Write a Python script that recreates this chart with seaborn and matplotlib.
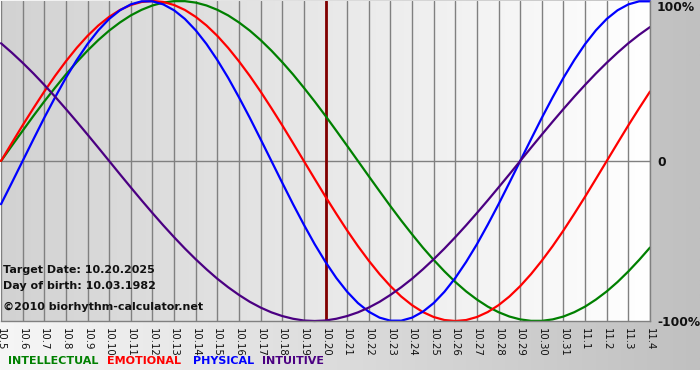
import numpy as np
import pandas as pd
import matplotlib
matplotlib.use("Agg")
import matplotlib.pyplot as plt
from matplotlib.colors import LinearSegmentedColormap
import seaborn as sns

dates = ["10.5", "10.6", "10.7", "10.8", "10.9", "10.10", "10.11", "10.12", "10.13",
         "10.14", "10.15", "10.16", "10.17", "10.18", "10.19", "10.20", "10.21",
         "10.22", "10.23", "10.24", "10.25", "10.26", "10.27", "10.28", "10.29",
         "10.30", "10.31", "11.1", "11.2", "11.3", "11.4"]

physical = [-0.270, -0.136, 0.000, 0.136, 0.270, 0.398, 0.520, 0.631, 0.731, 0.817,
            0.888, 0.942, 0.979, 0.998, 0.998, 0.979, 0.942, 0.888, 0.817, 0.731,
            0.631, 0.520, 0.398, 0.270, 0.136, 0.000,
            -0.136, -0.270, -0.398, -0.520, -0.631, -0.731, -0.817, -0.888, -0.942,
            -0.979, -0.998, -0.998, -0.979, -0.942, -0.888, -0.817, -0.731, -0.631,
            -0.520, -0.398, -0.270, -0.136, 0.000,
            0.136, 0.270, 0.398, 0.520, 0.631, 0.731, 0.817, 0.888, 0.942, 0.979,
            0.998, 0.998]

emotional = [0.000, 0.112, 0.223, 0.330, 0.434, 0.532, 0.623, 0.707, 0.782, 0.847,
             0.901, 0.944, 0.975, 0.994, 1.000,
             0.994, 0.975, 0.944, 0.901, 0.847, 0.782, 0.707, 0.623, 0.532, 0.434,
             0.330, 0.223, 0.112, 0.000,
             -0.112, -0.223, -0.330, -0.434, -0.532, -0.623, -0.707, -0.782, -0.847,
             -0.901, -0.944, -0.975, -0.994, -1.000,
             -0.994, -0.975, -0.944, -0.901, -0.847, -0.782, -0.707, -0.623, -0.532,
             -0.434, -0.330, -0.223, -0.112, 0.000,
             0.112, 0.223, 0.330, 0.434]

intellectual = [0.000, 0.095, 0.189, 0.282, 0.372, 0.458, 0.541, 0.618, 0.690, 0.756,
                0.815, 0.866, 0.910, 0.945, 0.972, 0.990, 0.999,
                0.999, 0.990, 0.972, 0.945, 0.910, 0.866, 0.815, 0.756, 0.690, 0.618,
                0.541, 0.458, 0.372, 0.282, 0.189, 0.095, 0.000,
                -0.095, -0.189, -0.282, -0.372, -0.458, -0.541, -0.618, -0.690, -0.756,
                -0.815, -0.866, -0.910, -0.945, -0.972, -0.990, -0.999, -0.999,
                -0.990, -0.972, -0.945, -0.910, -0.866, -0.815, -0.756, -0.690, -0.618,
                -0.541]

intuitive = [0.736, 0.677, 0.614, 0.547, 0.476, 0.402, 0.325, 0.246, 0.165, 0.083, 0.000,
             -0.083, -0.165, -0.246, -0.325, -0.402, -0.476, -0.547, -0.614, -0.677,
             -0.736, -0.789, -0.837, -0.880, -0.916, -0.946, -0.969, -0.986, -0.997,
             -1.000,
             -0.997, -0.986, -0.969, -0.946, -0.916, -0.880, -0.837, -0.789, -0.736,
             -0.677, -0.614, -0.547, -0.476, -0.402, -0.325, -0.246, -0.165, -0.083,
             0.000,
             0.083, 0.165, 0.246, 0.325, 0.402, 0.476, 0.547, 0.614, 0.677, 0.736,
             0.789, 0.837]

series_names = ["INTELLECTUAL", "EMOTIONAL", "PHYSICAL", "INTUITIVE"]
series_colors = ["#008000", "#ff0000", "#0000ff", "#4b0082"]
y_ticks = [-1, 0, 1]
y_tick_labels = ["-100%", "0", "100%"]
target_date = "10.20"
info_lines = ["Target Date: 10.20.2025", "Day of birth: 10.03.1982",
              "\u00a92010 biorhythm-calculator.net"]

# ---- build long table ----
x_idx = list(range(len(dates)))
sample_days = np.arange(len(physical)) * 0.5   # half-day sampling positions
frames = []
for name, vals in zip(series_names, [intellectual, emotional, physical, intuitive]):
    frames.append(pd.DataFrame({"day": sample_days, "value": vals, "series": name}))
df = pd.concat(frames, ignore_index=True)

sns.set_style("white")
plt.rcParams["font.family"] = ["DejaVu Sans"]

W, H = 700, 380
fig = plt.figure(figsize=(7, 3.8), dpi=100)
fig.patch.set_facecolor("white")

# outer background gradient (white -> gray, left to right)
bg = fig.add_axes([0, 10 / H, 1, 370 / H], zorder=-5)
bg.imshow(np.linspace(0, 1, 256).reshape(1, -1), aspect="auto",
          cmap=LinearSegmentedColormap.from_list("o", ["#f6f6f6", "#c0c0c0"]),
          extent=[0, 1, 0, 1])
bg.set_axis_off()

# main plot axes
ax = fig.add_axes([1 / W, (H - 321) / H, 649 / W, 320 / H], zorder=1)
ax.set_facecolor("none")
n = len(dates) - 1
ax.imshow(np.linspace(0, 1, 256).reshape(1, -1), aspect="auto",
          cmap=LinearSegmentedColormap.from_list("p", ["#d2d2d2", "#ffffff"]),
          extent=[0, n, -1, 1], zorder=0)

for xi in x_idx:
    ax.axvline(xi, color="#808080", lw=1, zorder=1)
ax.axhline(0, color="#808080", lw=1, zorder=1)
ax.axvline(dates.index(target_date), color="#800000", lw=2, zorder=1.5)

sns.lineplot(data=df, x="day", y="value", hue="series", hue_order=series_names,
             palette=dict(zip(series_names, series_colors)), linewidth=1.6,
             legend=False, ax=ax, zorder=2, clip_on=False)

ax.set_xlim(0, n)
ax.set_ylim(-1, 1)
ax.set_xlabel("")
ax.set_ylabel("")
ax.set_xticks(x_idx)
ax.set_xticklabels(dates, rotation=270, fontsize=7.3, color="#111111")
ax.tick_params(axis="x", length=4, width=1, color="#808080", pad=1)
ax.yaxis.tick_right()
ax.set_yticks(y_ticks)
ax.set_yticklabels(y_tick_labels, fontsize=8.8, fontweight="bold", color="#111111")
ax.tick_params(axis="y", length=0, pad=5)
for lbl in ax.get_yticklabels():
    if lbl.get_text() == "100%":
        lbl.set_va("top")
for s in ["top", "left"]:
    ax.spines[s].set_visible(False)
for s in ["bottom", "right"]:
    ax.spines[s].set_color("#808080")
    ax.spines[s].set_linewidth(1)

# info text
for txt, yc in zip(info_lines, [270, 286, 307]):
    fig.text(3 / W, 1 - yc / H, txt, fontsize=8, fontweight="bold",
             color="#111111", va="center", ha="left", zorder=5)

# bottom legend
for name, col, xp in zip(series_names, series_colors, [8, 107, 193, 262]):
    fig.text(xp / W, 1 - 361 / H, name, fontsize=8, fontweight="bold",
             color=col, va="center", ha="left")

fig.savefig("out.png", dpi=100)
